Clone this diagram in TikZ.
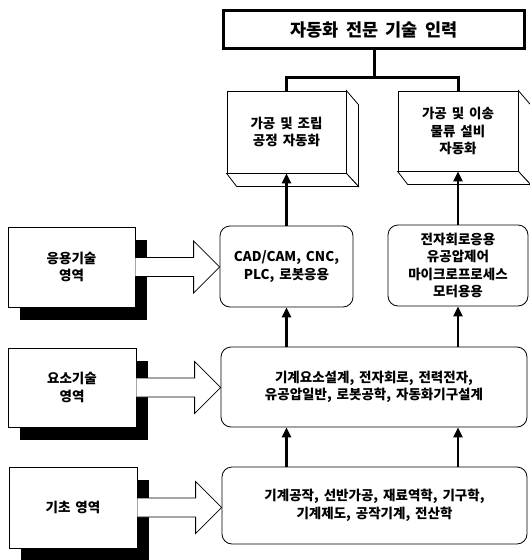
\documentclass[tikz,border=0pt]{standalone}
\usepackage{fontspec}
\setmainfont{Noto Sans CJK KR}[WordSpace=1.6]
\newfontfamily\titlefont{Noto Sans CJK KR}[WordSpace=1.8]
\usetikzlibrary{arrows.meta,calc}
\tikzset{
  txt/.style={font=\bfseries\fontsize{13.5}{17.5}\selectfont, align=center},
  plainbox/.style={draw, line width=0.8pt, fill=white, inner sep=0pt, txt},
  roundbox/.style={draw, line width=0.8pt, rounded corners=10pt, inner sep=0pt, txt},
  shadowfill/.style={fill=black},
  face/.style={draw, line width=0.8pt, fill=white, line join=miter},
  uparrow/.style={line width=2.6pt, -{Triangle[width=9pt,length=10pt]}},
  thickline/.style={line width=3pt},
  blockarrow/.style={draw, line width=0.8pt, fill=white, line join=miter},
}
\begin{document}
\begin{tikzpicture}[x=1pt,y=-1pt]
\useasboundingbox (0,0) rectangle (530,560);
\clip (0,0) rectangle (530,560);

% top title box
\node[draw, line width=3pt, minimum width=301pt, minimum height=38pt, inner sep=0pt,
      font=\titlefont\bfseries\fontsize{17.5}{20}\selectfont] (title) at (374,29.5) {자동화 전문 기술 인력};

% 3D boxes (front faces)
\node[plainbox, minimum width=119pt, minimum height=82pt] (procL) at (286.5,132) {가공 및 조립\\공정 자동화};
\node[plainbox, minimum width=120pt, minimum height=80pt] (procR) at (458,131) {가공 및 이송\\물류 설비\\자동화};
\foreach \b in {procL,procR}{
  \path[face] (\b.north east) -- ++(12,14) -- ($(\b.south east)+(12,13)$) -- (\b.south east) -- cycle;
  \path[face] (\b.south west) -- ++(10,13) -- ($(\b.south east)+(12,13)$) -- (\b.south east) -- cycle;
}

% connector from title
\coordinate (split) at ($(title.south)+(0,27)$);
\draw[thickline] (title.south) -- (split);
\draw[thickline, line cap=rect] (split -| procL) -- (split -| procR);
\draw[thickline] (split -| procL) -- (procL.north);
\draw[thickline] (split -| procR) -- (procR.north);

% application boxes
\node[roundbox, minimum width=133pt, minimum height=81pt] (cad) at (286.5,266.5) {CAD/CAM, CNC,\\PLC, 로봇응용};
\node[roundbox, minimum width=140pt, minimum height=81pt] (elec) at (458,265.5) {전자회로응용\\유공압제어\\마이크로프로세스\\모터용용};

% element box
\node[roundbox, minimum width=306pt, minimum height=80pt] (elem) at (374,387) {기계요소설계, 전자회로, 전력전자,\\유공압일반, 로봇공학, 자동화기구설계};

% base box
\node[roundbox, minimum width=305pt, minimum height=77pt] (base) at (374.5,505.5) {기계공작, 선반가공, 재료역학, 기구학,\\기계제도, 공작기계, 전산학};

% vertical arrows
\draw[uparrow] (cad.north) -- (procL.south);
\draw[uparrow] (elec.north) -- (procR.south);
\draw[uparrow] (elem.north -| cad) -- (cad.south);
\draw[uparrow] (elem.north -| elec) -- (elec.south);
\draw[uparrow] (base.north -| cad) -- (elem.south -| cad);
\draw[uparrow] (base.north -| elec) -- (elem.south -| elec);

% left area boxes: shadows first
\coordinate (applC) at (71.5,267);
\coordinate (elareaC) at (72,387.5);
\coordinate (baseareaC) at (73,507.5);
\fill[shadowfill] ($(applC)+(-63.5+12,-40+13)$) rectangle ($(applC)+(63.5+12,40+13)$);
\fill[shadowfill] ($(elareaC)+(-64+12,-39.5+13)$) rectangle ($(elareaC)+(64+12,39.5+13)$);
\fill[shadowfill] ($(baseareaC)+(-64+12,-40.5+13)$) rectangle ($(baseareaC)+(64+12,40.5+13)$);
\node[plainbox, minimum width=127pt, minimum height=80pt] (appl) at (applC) {응용기술\\영역};
\node[plainbox, minimum width=128pt, minimum height=79pt] (elarea) at (elareaC) {요소기술\\영역};
\node[plainbox, minimum width=128pt, minimum height=81pt] (basearea) at (baseareaC) {기초 영역};

% block arrows
\foreach \a/\t in {appl/cad, elarea/elem, basearea/base}{
  \path[blockarrow] ($(\a.east)+(0,-9.5)$) -- ($(\a.east -| \t.west)+(-26,-9.5)$)
     -- ($(\a.east -| \t.west)+(-26,-26)$) -- (\a.east -| \t.west)
     -- ($(\a.east -| \t.west)+(-26,26)$) -- ($(\a.east -| \t.west)+(-26,9.5)$)
     -- ($(\a.east)+(0,9.5)$);
}
\end{tikzpicture}
\end{document}
